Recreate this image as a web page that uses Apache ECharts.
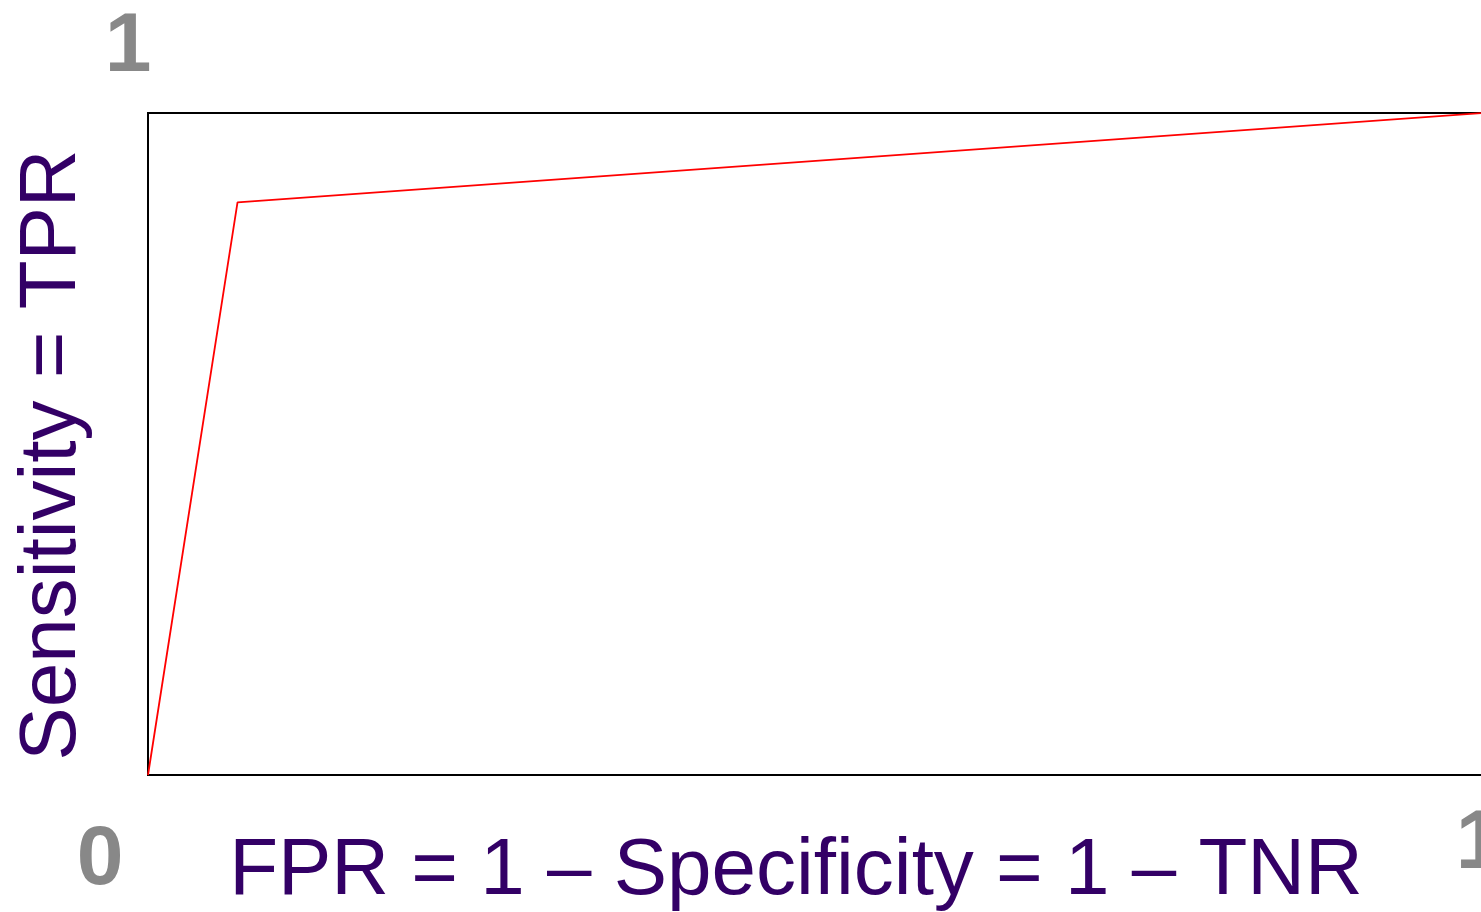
<!DOCTYPE html>
<html>
<head>
<meta charset="utf-8">
<script src="https://cdn.jsdelivr.net/npm/echarts@6/dist/echarts.min.js"></script>
<style>
html,body{margin:0;padding:0;background:#fff;}
#chart{width:1481px;height:912px;}
</style>
</head>
<body>
<div id="chart"></div>
<script>
// Data
const fpr = [0, 0.067, 1];
const tpr = [0, 0.865, 1];
const xTitle = 'FPR = 1 \u2013 Specificity = 1 \u2013 TNR';
const yTitle = 'Sensitivity = TPR';
const cornerLabels = ['0', '1', '1']; // origin, y max, x max

const chart = echarts.init(document.getElementById('chart'), null, {renderer: 'canvas'});
const font = '"Liberation Sans", Arial, sans-serif';
const option = {
  animation: false,
  backgroundColor: '#ffffff',
  grid: {
    left: 148, top: 113, width: 1336, bottom: 137,
    outerBoundsMode: 'none', containLabel: false,
    show: true, borderColor: '#000000', borderWidth: 2, backgroundColor: 'transparent'
  },
  xAxis: {
    type: 'value', min: 0, max: 1,
    axisLine: {show: false}, axisTick: {show: false}, axisLabel: {show: false}, splitLine: {show: false}
  },
  yAxis: {
    type: 'value', min: 0, max: 1,
    axisLine: {show: false}, axisTick: {show: false}, axisLabel: {show: false}, splitLine: {show: false}
  },
  series: [{
    type: 'line',
    data: fpr.map((x, i) => [x, tpr[i]]),
    symbol: 'none',
    lineStyle: {color: '#ff0000', width: 1.8},
    clip: false
  }]
};
chart.setOption(option);

const p00 = chart.convertToPixel({gridIndex: 0}, [0, 0]);
const p01 = chart.convertToPixel({gridIndex: 0}, [0, 1]);
const p10 = chart.convertToPixel({gridIndex: 0}, [1, 0]);
const numStyle = {fill: '#888888', font: 'bold 84px ' + font, textAlign: 'center', textVerticalAlign: 'middle'};
const titleStyle = {fill: '#330066', font: '80px ' + font, textAlign: 'center', textVerticalAlign: 'middle'};

chart.setOption({
  graphic: [
    {type: 'text', x: p00[0] - 48, y: p00[1] + 86, style: Object.assign({text: cornerLabels[0]}, numStyle)},
    {type: 'text', x: p01[0] - 20, y: p01[1] - 65, style: Object.assign({text: cornerLabels[1]}, numStyle)},
    {type: 'text', x: p10[0] - 5, y: p10[1] + 70, style: Object.assign({text: cornerLabels[2]}, numStyle)},
    {type: 'text', x: 796, y: 872, style: Object.assign({text: xTitle}, titleStyle)},
    {type: 'text', x: 53, y: 455, rotation: Math.PI / 2, style: Object.assign({text: yTitle}, titleStyle)}
  ]
});
</script>
</body>
</html>
